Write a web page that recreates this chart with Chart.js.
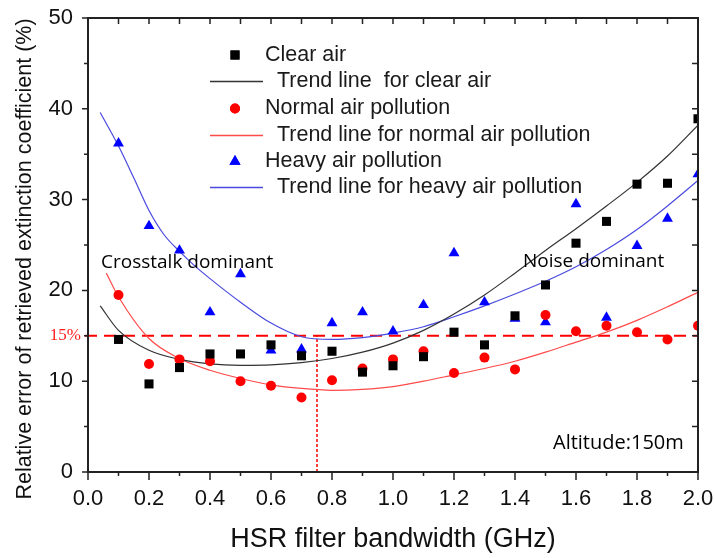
<!DOCTYPE html>
<html>
<head>
<meta charset="utf-8">
<script src="https://cdn.jsdelivr.net/npm/chart.js@4.4.1/dist/chart.umd.min.js"></script>
<style>
  html, body { margin: 0; padding: 0; background: #fff; }
  #wrap { width: 714px; height: 558px; }
</style>
</head>
<body>
<div id="wrap"><canvas id="errChart" width="714" height="558"></canvas></div>
<script>
// values (relative error, %)
const bandwidth = [0.1, 0.2, 0.3, 0.4, 0.5, 0.6, 0.7, 0.8, 0.9, 1.0, 1.1, 1.2, 1.3, 1.4, 1.5, 1.6, 1.7, 1.8, 1.9, 2.0];
const clearAir = [14.6, 9.7, 11.5, 13.0, 13.0, 14.0, 12.8, 13.3, 11.0, 11.7, 12.7, 15.4, 14.0, 17.2, 20.6, 25.2, 27.6, 31.7, 31.8, 38.9];
const normalPollution = [19.5, 11.9, 12.4, 12.2, 10.0, 9.5, 8.2, 10.1, 11.4, 12.4, 13.3, 10.9, 12.6, 11.3, 17.3, 15.5, 16.1, 15.4, 14.6, 16.1];
const heavyPollution = [36.2, 27.1, 24.4, 17.6, 21.8, 13.4, 13.5, 16.4, 17.6, 15.5, 18.4, 24.1, 18.7, 16.9, 16.5, 29.5, 17.0, 24.9, 27.9, 32.8];

// trend lines, sampled from the figure
const clearTrendX = [0.04, 0.1, 0.2, 0.3, 0.4, 0.5, 0.6, 0.7, 0.8, 0.9, 1.0, 1.1, 1.2, 1.3, 1.4, 1.5, 1.6, 1.7, 1.8, 1.9, 2.0];
const clearTrendY = [18.3, 15.6, 13.4, 12.4, 11.9, 11.75, 11.8, 12.05, 12.5, 13.2, 14.2, 15.6, 17.4, 19.5, 21.9, 24.4, 26.8, 29.3, 31.9, 34.8, 38.2];
const normalTrendX = [0.06, 0.1, 0.2, 0.3, 0.4, 0.5, 0.6, 0.7, 0.8, 0.9, 1.0, 1.1, 1.2, 1.3, 1.4, 1.5, 1.6, 1.7, 1.8, 1.9, 2.0];
const normalTrendY = [21.9, 19.3, 14.7, 12.5, 11.2, 10.3, 9.6, 9.2, 9.0, 9.1, 9.4, 10.0, 10.7, 11.4, 12.2, 13.2, 14.3, 15.4, 16.7, 18.2, 19.8];
const heavyTrendX = [0.04, 0.1, 0.15, 0.2, 0.25, 0.3, 0.35, 0.4, 0.5, 0.6, 0.7, 0.8, 0.9, 1.0, 1.1, 1.2, 1.3, 1.4, 1.5, 1.6, 1.7, 1.8, 1.9, 2.0];
const heavyTrendY = [39.6, 35.9, 32.4, 28.8, 26.1, 24.3, 22.7, 21.3, 18.7, 16.4, 14.9, 14.6, 14.8, 15.3, 16.0, 17.1, 18.3, 19.6, 21.0, 22.6, 24.5, 26.7, 29.3, 32.1];

const xTicks = [0, 0.2, 0.4, 0.6, 0.8, 1.0, 1.2, 1.4, 1.6, 1.8, 2.0];
const yTicks = [0, 10, 20, 30, 40, 50];
const thresholdError = 15;
const thresholdBandwidth = 0.75;

const legendItems = [
  { label: 'Clear air', kind: 'point', style: 'rect', color: '#000000' },
  { label: '  Trend line  for clear air', kind: 'line', color: '#333333' },
  { label: 'Normal air pollution', kind: 'point', style: 'circle', color: '#ff0000' },
  { label: '  Trend line for normal air pollution', kind: 'line', color: '#ff4a4a' },
  { label: 'Heavy air pollution', kind: 'point', style: 'triangle', color: '#0000ff' },
  { label: '  Trend line for heavy air pollution', kind: 'line', color: '#4a4ae0' }
];

function pairs(xs, ys) {
  return xs.map((x, i) => ({ x: x, y: ys[i] }));
}

const SANS = '"Liberation Sans", Arial, sans-serif';

const decorPlugin = {
  id: 'decor',
  beforeDatasetsDraw(chart) {
    const ctx = chart.ctx;
    const sx = chart.scales.x, sy = chart.scales.y;
    const yThr = sy.getPixelForValue(thresholdError);
    ctx.save();
    // 15% threshold line
    ctx.strokeStyle = '#ff0000';
    ctx.lineWidth = 2;
    ctx.setLineDash([12, 7]);
    ctx.beginPath();
    ctx.moveTo(sx.getPixelForValue(0) - 3, yThr);
    ctx.lineTo(sx.getPixelForValue(2), yThr);
    ctx.stroke();
    // dotted marker at 0.75 GHz
    ctx.strokeStyle = '#ff0000';
    ctx.lineWidth = 1.5;
    ctx.setLineDash([3, 2]);
    const xv = Math.round(sx.getPixelForValue(thresholdBandwidth));
    ctx.beginPath();
    ctx.moveTo(xv, sy.getPixelForValue(0));
    ctx.lineTo(xv, yThr);
    ctx.stroke();
    ctx.restore();
  },
  afterDraw(chart) {
    const ctx = chart.ctx;
    const a = chart.chartArea;
    const sx = chart.scales.x, sy = chart.scales.y;
    ctx.save();

    // frame
    ctx.strokeStyle = '#222';
    ctx.lineWidth = 2;
    ctx.setLineDash([]);
    ctx.strokeRect(a.left, a.top, a.right - a.left, a.bottom - a.top);

    // ticks
    ctx.lineWidth = 1.5;
    ctx.beginPath();
    for (let i = 0; i <= 20; i++) {
      const px = sx.getPixelForValue(i / 10);
      const len = i % 2 === 0 ? 8 : 4;
      ctx.moveTo(px, a.bottom); ctx.lineTo(px, a.bottom + len);
      ctx.moveTo(px, a.top); ctx.lineTo(px, a.top + 6);
    }
    for (let v = 0; v <= 50; v += 5) {
      const py = sy.getPixelForValue(v);
      const len = v % 10 === 0 ? 6 : 4;
      ctx.moveTo(a.left, py); ctx.lineTo(a.left - len, py);
      ctx.moveTo(a.right, py); ctx.lineTo(a.right - 6, py);
    }
    ctx.stroke();

    // axis titles
    ctx.fillStyle = '#111';
    ctx.textAlign = 'center';
    ctx.textBaseline = 'middle';
    ctx.font = '27px ' + SANS;
    ctx.fillText('HSR filter bandwidth (GHz)', (a.left + a.right) / 2, 540);
    ctx.save();
    ctx.translate(25, 259);
    ctx.rotate(-Math.PI / 2);
    ctx.font = '21.5px ' + SANS;
    ctx.fillText('Relative error of retrieved extinction coefficient (%)', 0, 0);
    ctx.restore();

    // 15% label
    ctx.fillStyle = '#ff2020';
    ctx.font = '17px "Liberation Serif", "Times New Roman", serif';
    ctx.textAlign = 'right';
    ctx.fillText('15%', 81, sy.getPixelForValue(thresholdError));

    // region notes
    ctx.fillStyle = '#000';
    ctx.textAlign = 'left';
    ctx.font = '19px "Open Sans", "Noto Sans", sans-serif';
    ctx.fillText('Crosstalk dominant', 101, 263);
    ctx.fillText('Noise dominant', 523, 262);
    ctx.font = '20px "Open Sans", "Noto Sans", sans-serif';
    ctx.fillText('Altitude:150m', 553, 443);

    // legend
    const rowY = [55, 81.5, 108.5, 135.5, 161.5, 187.5];
    ctx.font = '21.5px ' + SANS;
    legendItems.forEach((it, i) => {
      const y = rowY[i];
      if (it.kind === 'line') {
        ctx.strokeStyle = it.color;
        ctx.lineWidth = 1.3;
        ctx.beginPath();
        ctx.moveTo(210, y); ctx.lineTo(263, y);
        ctx.stroke();
      } else {
        ctx.fillStyle = it.color;
        const r = it.style === 'circle' ? 5 : 6.4;
        Chart.helpers.drawPoint(ctx, { pointStyle: it.style, radius: r, rotation: 0, borderWidth: 0 }, 235, y);
        ctx.fill();
      }
      ctx.fillStyle = '#1a1a1a';
      ctx.fillText(it.label, 265, y);
    });
    ctx.restore();
  }
};

// keep the plot box fixed: no extra room for overhanging end labels
function noOverhang(s) {
  s.paddingLeft = 0; s.paddingRight = 0; s.paddingTop = 0; s.paddingBottom = 0;
}

const ctx = document.getElementById('errChart').getContext('2d');

const errChart = new Chart(ctx, {
  type: 'scatter',
  data: {
    datasets: [
      {
        label: 'Clear air',
        data: pairs(bandwidth, clearAir),
        pointStyle: 'rect', pointRadius: 6.4,
        backgroundColor: '#000000', borderColor: '#000000', borderWidth: 0
      },
      {
        label: 'Normal air pollution',
        data: pairs(bandwidth, normalPollution),
        pointStyle: 'circle', pointRadius: 5,
        backgroundColor: '#ff0000', borderColor: '#ff0000', borderWidth: 0
      },
      {
        label: 'Heavy air pollution',
        data: pairs(bandwidth, heavyPollution),
        pointStyle: 'triangle', pointRadius: 6.3,
        backgroundColor: '#0000ff', borderColor: '#0000ff', borderWidth: 0
      },
      {
        label: 'Trend line for clear air',
        data: pairs(clearTrendX, clearTrendY),
        showLine: true, pointRadius: 0, cubicInterpolationMode: 'monotone',
        borderColor: '#333333', borderWidth: 1.2
      },
      {
        label: 'Trend line for normal air pollution',
        data: pairs(normalTrendX, normalTrendY),
        showLine: true, pointRadius: 0, cubicInterpolationMode: 'monotone',
        borderColor: '#ff4a4a', borderWidth: 1.2
      },
      {
        label: 'Trend line for heavy air pollution',
        data: pairs(heavyTrendX, heavyTrendY),
        showLine: true, pointRadius: 0, cubicInterpolationMode: 'monotone',
        borderColor: '#4a4ae0', borderWidth: 1.2
      }
    ]
  },
  options: {
    responsive: false,
    animation: false,
    layout: { padding: { top: 18, right: 16, left: 0, bottom: 0 } },
    plugins: {
      legend: { display: false },
      tooltip: { enabled: false }
    },
    scales: {
      x: {
        type: 'linear', min: 0, max: 2,
        afterBuildTicks: (s) => { s.ticks = xTicks.map(v => ({ value: v })); },
        afterFit: (s) => { s.height = 86; noOverhang(s); },
        grid: { display: false, drawTicks: false },
        border: { display: false },
        ticks: {
          padding: 14, color: '#111', maxRotation: 0,
          font: { family: SANS, size: 22 },
          callback: (v) => Number(v).toFixed(1)
        }
      },
      y: {
        type: 'linear', min: 0, max: 50,
        afterBuildTicks: (s) => { s.ticks = yTicks.map(v => ({ value: v })); },
        afterFit: (s) => { s.width = 88; noOverhang(s); },
        grid: { display: false, drawTicks: false },
        border: { display: false },
        ticks: {
          padding: 15, color: '#111',
          font: { family: SANS, size: 22 }
        }
      }
    }
  },
  plugins: [decorPlugin]
});
</script>
</body>
</html>
